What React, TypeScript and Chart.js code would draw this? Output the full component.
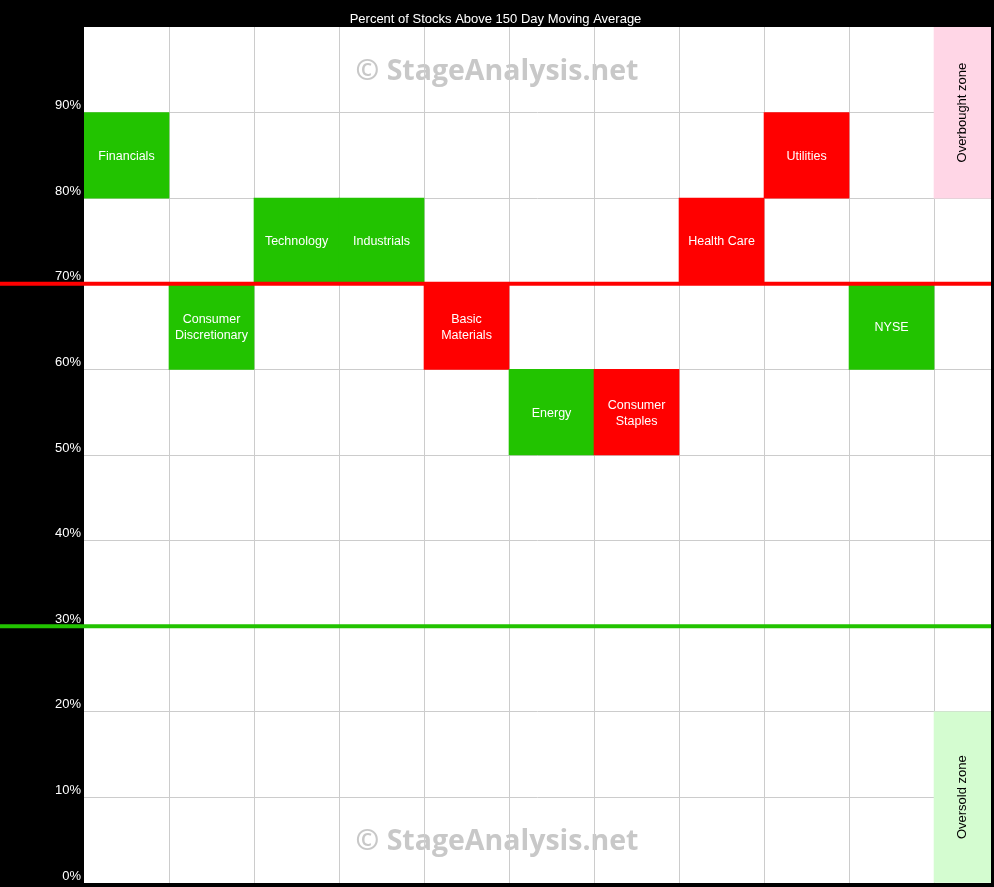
import { useEffect, useRef } from 'react';
import { Chart, registerables } from 'chart.js';

Chart.register(...registerables);

// Sector readings: each box spans one 10% band of stocks above the 150-day MA
const sectorLabels = [
  'Financials',
  'Consumer\nDiscretionary',
  'Technology',
  'Industrials',
  'Basic\nMaterials',
  'Energy',
  'Consumer\nStaples',
  'Health Care',
  'Utilities',
  'NYSE',
];
const sectorFrom = [80, 60, 70, 70, 60, 50, 50, 70, 80, 60];
const sectorTo = [90, 70, 80, 80, 70, 60, 60, 80, 90, 70];
// true = improving (green), false = weakening (red)
const sectorRising = [true, true, true, true, false, true, false, false, false, true];

// Reference zones shown in the last column
const zoneLabels = ['Overbought zone', 'Oversold zone'];
const zoneFrom = [80, 0];
const zoneTo = [100, 20];

const overboughtLevel = 70;
const oversoldLevel = 30;

const chartTitle = 'Percent of Stocks Above 150 Day Moving Average';
const watermarkText = '\u00A9 StageAnalysis.net';
const watermarkLevels = [95, 5];

const GREEN = '#22c300';
const RED = '#ff0000';
const ZONE_COLORS = ['#ffd6e6', '#d4fcd0'];
const GRID = '#cccccc';
const FONT = '"Liberation Sans", Arial, sans-serif';

export default function App() {
  const canvasRef = useRef<HTMLCanvasElement>(null);

  useEffect(() => {
    document.body.style.margin = '0';
    const canvas = canvasRef.current;
    if (!canvas) return;

    const columnCount = sectorLabels.length + 1;
    const columnEdges = Array.from({ length: columnCount }, (_, i) => i);

    const points = [
      ...sectorLabels.map((_, i) => ({ x: i + 0.5, y: [sectorFrom[i], sectorTo[i]] })),
      ...zoneLabels.map((_, i) => ({ x: sectorLabels.length + 0.5, y: [zoneFrom[i], zoneTo[i]] })),
    ];
    const colors = [...sectorRising.map((up) => (up ? GREEN : RED)), ...ZONE_COLORS];

    const plotBackground = {
      id: 'plotBackground',
      beforeDraw(chart: any) {
        const { ctx, chartArea, scales } = chart;
        ctx.save();
        ctx.fillStyle = '#ffffff';
        ctx.fillRect(chartArea.left, chartArea.top, chartArea.right - chartArea.left, chartArea.bottom - chartArea.top);
        ctx.fillStyle = '#c8c8c8';
        ctx.font = `bold 28.5px "Open Sans", sans-serif`;
        ctx.textAlign = 'center';
        ctx.textBaseline = 'middle';
        watermarkLevels.forEach((lv) => {
          ctx.fillText(watermarkText, chart.width / 2, scales.y.getPixelForValue(lv) + 2);
        });
        ctx.restore();
      },
    };

    const overlay = {
      id: 'overlay',
      afterDatasetsDraw(chart: any) {
        const { ctx, chartArea, scales } = chart;
        ctx.save();
        // threshold lines span the full width, across the axis area too
        [
          [overboughtLevel, RED],
          [oversoldLevel, GREEN],
        ].forEach(([lv, col]) => {
          const y = scales.y.getPixelForValue(lv as number);
          ctx.strokeStyle = col as string;
          ctx.lineWidth = 4;
          ctx.beginPath();
          ctx.moveTo(0, y);
          ctx.lineTo(chartArea.right, y);
          ctx.stroke();
        });

        const meta = chart.getDatasetMeta(0);
        ctx.textAlign = 'center';
        ctx.textBaseline = 'middle';
        ctx.font = `12.5px ${FONT}`;
        sectorLabels.forEach((label, i) => {
          const bar = meta.data[i];
          const cy = (bar.y + bar.base) / 2;
          const lines = label.split('\n');
          ctx.fillStyle = '#ffffff';
          lines.forEach((line, k) => {
            ctx.fillText(line, bar.x, cy + 1 + (k - (lines.length - 1) / 2) * 16);
          });
        });

        ctx.font = `13px ${FONT}`;
        zoneLabels.forEach((label, i) => {
          const bar = meta.data[sectorLabels.length + i];
          const cx = (chartArea.right + scales.x.getPixelForValue(sectorLabels.length)) / 2;
          const cy = (bar.y + bar.base) / 2;
          ctx.save();
          ctx.translate(cx, cy);
          ctx.rotate(-Math.PI / 2);
          ctx.fillStyle = '#000000';
          ctx.fillText(label, 0, 0);
          ctx.restore();
        });
        ctx.restore();
      },
    };

    const chart = new Chart(canvas, {
      type: 'bar',
      data: {
        datasets: [
          {
            data: points as any,
            backgroundColor: colors,
            borderWidth: 0,
            barPercentage: 1,
            categoryPercentage: 1,
          },
        ],
      },
      options: {
        responsive: false,
        animation: false,
        layout: { padding: { top: 0, right: 3, bottom: 4, left: 0 } },
        plugins: {
          legend: { display: false },
          tooltip: { enabled: false },
          title: {
            display: true,
            text: chartTitle,
            color: '#ffffff',
            font: { family: FONT, size: 13, weight: 'normal', lineHeight: 1 },
            padding: { top: 13, bottom: 1 },
          },
        },
        scales: {
          x: {
            type: 'linear',
            min: 0,
            max: 10.67,
            offset: false,
            border: { display: false },
            ticks: { display: false },
            grid: {
              offset: false,
              drawTicks: false,
              color: (ctx: any) => (ctx.tick && ctx.tick.value === 0 ? 'rgba(0,0,0,0)' : GRID),
            },
            afterBuildTicks: (scale: any) => {
              scale.ticks = columnEdges.map((v) => ({ value: v }));
            },
          },
          y: {
            type: 'linear',
            min: 0,
            max: 100,
            border: { display: false },
            grid: {
              drawTicks: false,
              color: (ctx: any) =>
                ctx.tick && (ctx.tick.value === 0 || ctx.tick.value === 100) ? 'rgba(0,0,0,0)' : GRID,
            },
            ticks: {
              stepSize: 10,
              color: '#ffffff',
              padding: 3,
              labelOffset: -7,
              font: { family: FONT, size: 13 },
              callback: (v: any) => (v === 100 ? '' : `${v}%`),
            },
            afterFit: (scale: any) => {
              scale.width = 84;
              scale.paddingTop = 0;
              scale.paddingBottom = 0;
            },
          },
        },
      } as any,
      plugins: [plotBackground, overlay],
    });

    return () => chart.destroy();
  }, []);

  return (
    <div style={{ position: 'fixed', left: 0, top: 0, width: 994, height: 887, background: '#000000' }}>
      <canvas ref={canvasRef} width={994} height={887} style={{ display: 'block' }} />
    </div>
  );
}
